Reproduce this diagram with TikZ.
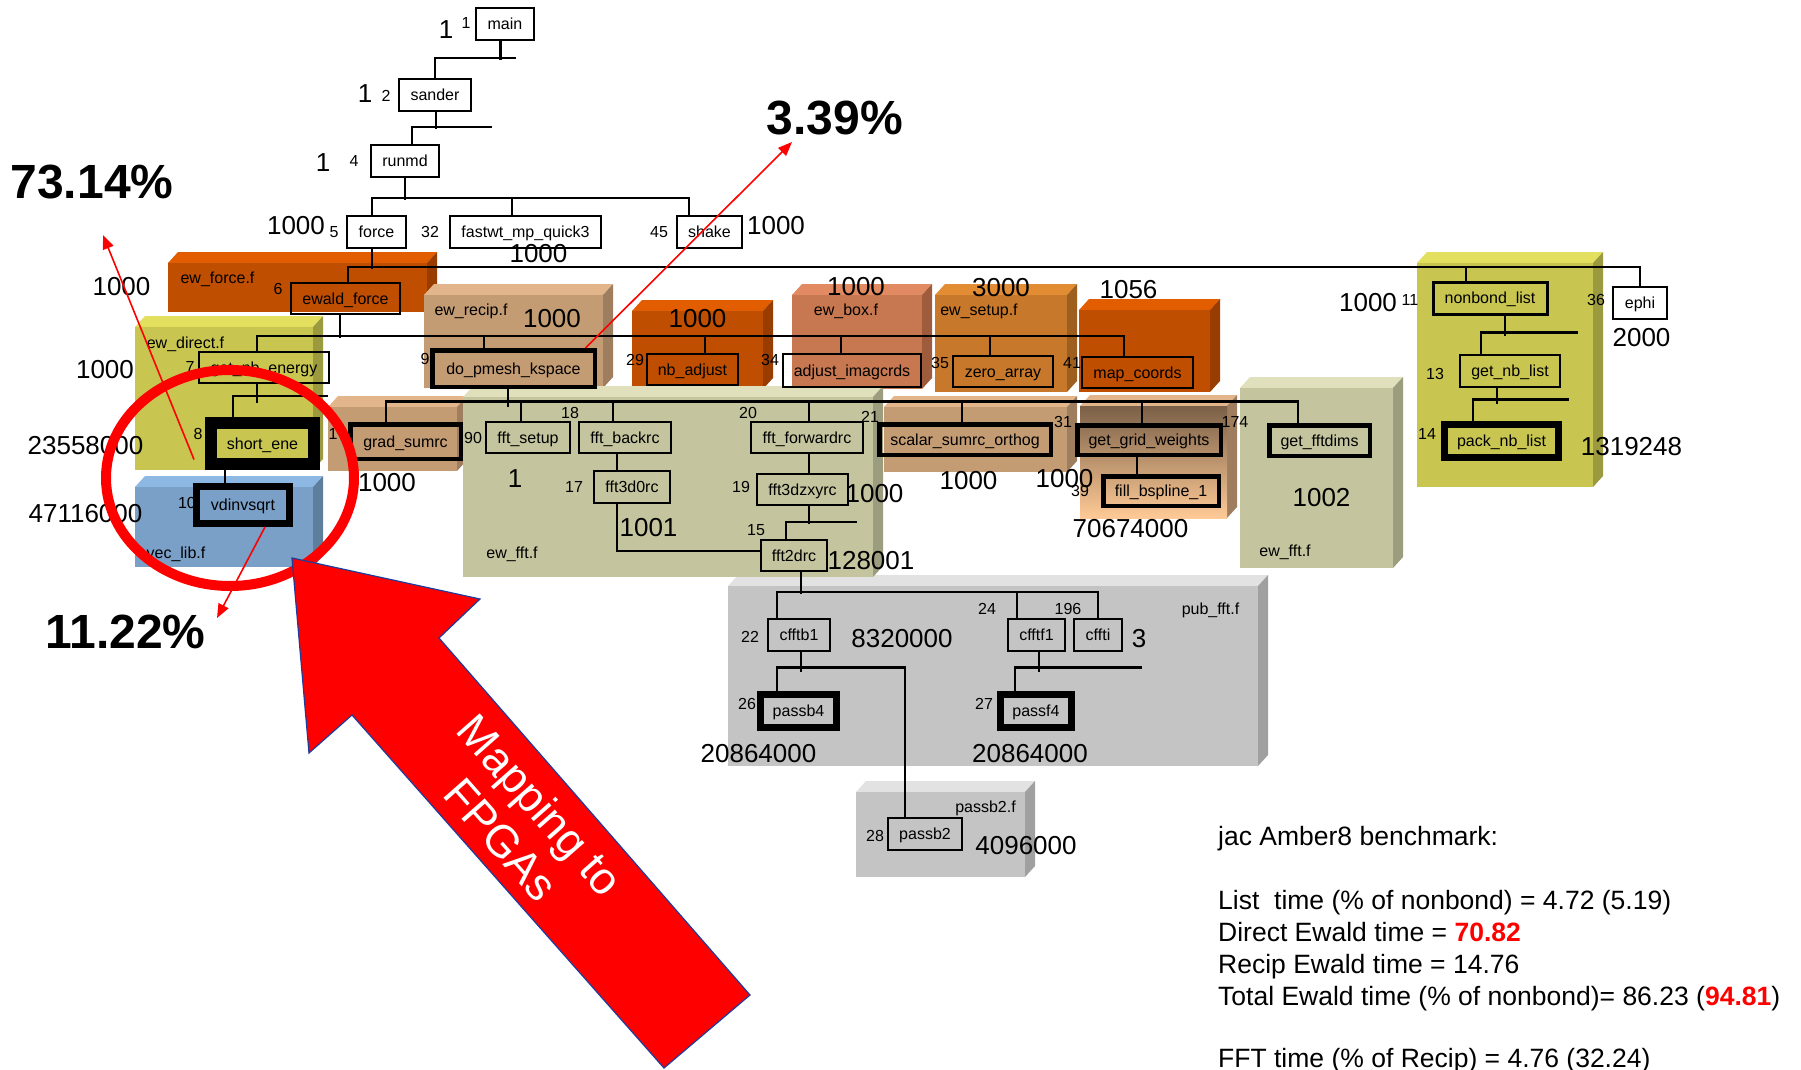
\documentclass[tikz,border=0pt]{standalone}
\usepackage{fontspec}
\setmainfont{Liberation Sans}
\usetikzlibrary{arrows.meta}
\definecolor{fOr}{HTML}{C04E00}\definecolor{tOr}{HTML}{E25C00}\definecolor{sOr}{HTML}{983C00}
\definecolor{fTan}{HTML}{C49C74}\definecolor{tTan}{HTML}{E2B68A}\definecolor{sTan}{HTML}{9E7E5E}
\definecolor{fSal}{HTML}{C87850}\definecolor{tSal}{HTML}{E28A62}\definecolor{sSal}{HTML}{9E5C3C}
\definecolor{fAmb}{HTML}{C8782A}\definecolor{tAmb}{HTML}{E28C34}\definecolor{sAmb}{HTML}{9E5E1E}
\definecolor{fYel}{HTML}{C8C650}\definecolor{tYel}{HTML}{E2E05E}\definecolor{sYel}{HTML}{9C9A3E}
\definecolor{fBlu}{HTML}{7AA0C8}\definecolor{tBlu}{HTML}{8EB8E4}\definecolor{sBlu}{HTML}{5E7E9E}
\definecolor{fOli}{HTML}{C4C49E}\definecolor{tOli}{HTML}{E0E0BC}\definecolor{sOli}{HTML}{9C9C7E}
\definecolor{fGry}{HTML}{C4C4C4}\definecolor{tGry}{HTML}{E2E2E2}\definecolor{sGry}{HTML}{A0A0A0}
\definecolor{ggwTop}{HTML}{7A6048}\definecolor{ggwMid}{HTML}{C9A07C}\definecolor{ggwBot}{HTML}{FFCA96}
\definecolor{hotred}{HTML}{FF0000}\definecolor{rim}{HTML}{1F3C9C}
\newcommand\srcfile[5]{%
 \fill[t#5] (#1,#2) -- (#1+10,#2-11) -- (#3+10,#2-11) -- (#3,#2) -- cycle;
 \fill[s#5] (#3,#2) -- (#3+10,#2-11) -- (#3+10,#4-11) -- (#3,#4) -- cycle;
 \fill[f#5] (#1,#2) rectangle (#3,#4);}
\tikzset{
 wire/.style={line width=2.6pt},
 fn/.style={draw,line width=2pt,inner sep=0pt,font=\fontsize{16}{19}\selectfont,text height=11.5pt,text depth=0pt},
 warm/.style={line width=4.5pt},
 hot/.style={line width=7pt},
 hottest/.style={line width=12pt},
 idx/.style={inner sep=0pt,font=\fontsize{16}{19}\selectfont,text height=11.5pt,text depth=0pt},
 cnt/.style={inner sep=0pt,font=\fontsize{26}{31}\selectfont,text height=18.6pt,text depth=0pt},
 pct/.style={inner sep=0pt,font=\fontsize{48}{56}\selectfont\bfseries,text height=34.4pt,text depth=0pt},
 pointer/.style={draw=hotred,line width=1.6pt,-{Triangle[length=14pt,width=11pt]}},
 bench/.style={anchor=base west,inner sep=0pt,font=\fontsize{26.5}{32}\selectfont}
}
\begin{document}
\begin{tikzpicture}[x=1pt,y=-1pt]
\useasboundingbox (0,0) rectangle (1801,1070);
\fill[white] (0,0) rectangle (1801,1070);

\srcfile{728}{586}{1258}{766}{Gry}
\srcfile{856}{792}{1025}{877}{Gry}
\srcfile{168}{263}{427}{312}{Or}
\srcfile{135}{327}{313}{470}{Yel}
\srcfile{135}{487}{313}{567}{Blu}
\srcfile{424}{295}{603}{388}{Tan}
\srcfile{632}{311}{763}{389}{Or}
\srcfile{792}{295}{922}{389}{Sal}
\srcfile{935}{295}{1067}{392}{Amb}
\srcfile{1079}{310}{1210}{392}{Or}
\srcfile{328}{407}{457}{471}{Tan}
\srcfile{884}{407}{1067}{472}{Tan}
\fill[tTan] (1080,406) -- (1090,395) -- (1237,395) -- (1227,406) -- cycle;
\fill[sTan] (1227,406) -- (1237,395) -- (1237,507) -- (1227,518) -- cycle;
\shade[top color=ggwTop,middle color=ggwMid,bottom color=ggwBot] (1080,406) rectangle (1227,518);
\srcfile{463}{397}{873}{577}{Oli}
\srcfile{1240}{388}{1393}{568}{Oli}
\srcfile{1417}{263}{1593}{487}{Yel}

\node[idx] at (217.5,278) {ew\_force.f};
\node[idx] at (185.5,343) {ew\_direct.f};
\node[idx] at (176,553) {vec\_lib.f};
\node[idx] at (471,310) {ew\_recip.f};
\node[idx] at (846,310) {ew\_box.f};
\node[idx] at (979,310) {ew\_setup.f};
\node[idx] at (512,553) {ew\_fft.f};
\node[idx] at (1285,551) {ew\_fft.f};
\node[idx] at (1210.5,609) {pub\_fft.f};
\node[idx] at (985.5,807) {passb2.f};

\node[idx] at (466,23) {1};
\node[idx] at (386,96) {2};
\node[idx] at (354,161) {4};
\node[idx] at (334,232) {5};
\node[idx] at (430,232) {32};
\node[idx] at (659,232) {45};
\node[idx] at (278,289) {6};
\node[idx] at (190,367) {7};
\node[idx] at (198,434) {8};
\node[idx] at (187,503) {10};
\node[idx] at (425,359) {9};
\node[idx] at (635,360) {29};
\node[idx] at (770,360) {34};
\node[idx] at (940,363) {35};
\node[idx] at (1072,363) {41};
\node[idx] at (333,434) {1};
\node[idx] at (473,438) {90};
\node[idx] at (570,413) {18};
\node[idx] at (574,487) {17};
\node[idx] at (748,413) {20};
\node[idx] at (741,487) {19};
\node[idx] at (756,530) {15};
\node[idx] at (870,417) {21};
\node[idx] at (1063,422) {31};
\node[idx] at (1235,422) {174};
\node[idx] at (1080,491) {39};
\node[idx] at (1410,300) {11};
\node[idx] at (1435,374) {13};
\node[idx] at (1427,434) {14};
\node[idx] at (1596,300) {36};
\node[idx] at (750,637) {22};
\node[idx] at (987,609) {24};
\node[idx] at (1068,609) {196};
\node[idx] at (747,704) {26};
\node[idx] at (984,704) {27};
\node[idx] at (875,836) {28};

\node[cnt] at (446,29) {1};
\node[cnt] at (365,93) {1};
\node[cnt] at (323,162) {1};
\node[cnt] at (296,225) {1000};
\node[cnt] at (538.5,253) {1000};
\node[cnt] at (776,225) {1000};
\node[cnt] at (121.5,286) {1000};
\node[cnt] at (105,369) {1000};
\node[cnt] at (85.5,445) {23558000};
\node[cnt] at (85.5,513) {47116000};
\node[cnt] at (387,482) {1000};
\node[cnt] at (552,318) {1000};
\node[cnt] at (697.5,318) {1000};
\node[cnt] at (856,286) {1000};
\node[cnt] at (1001,287) {3000};
\node[cnt] at (1128.5,289) {1056};
\node[cnt] at (515,478) {1};
\node[cnt] at (648.5,527) {1001};
\node[cnt] at (874.5,493) {1000};
\node[cnt] at (871,560) {128001};
\node[cnt] at (968.5,480) {1000};
\node[cnt] at (1064.5,478) {1000};
\node[cnt] at (1130.5,528) {70674000};
\node[cnt] at (1321.5,497) {1002};
\node[cnt] at (1368,302) {1000};
\node[cnt] at (1641.5,337) {2000};
\node[cnt] at (1631.5,446) {1319248};
\node[cnt] at (902,638) {8320000};
\node[cnt] at (1139,638) {3};
\node[cnt] at (758.5,753) {20864000};
\node[cnt] at (1030,753) {20864000};
\node[cnt] at (1026,845) {4096000};

\node[fn,minimum width=58pt,minimum height=32pt] (main) at (505,24) {main};
\node[fn,minimum width=72pt,minimum height=32pt] (sander) at (435,95) {sander};
\node[fn,minimum width=68pt,minimum height=32pt] (runmd) at (405,161) {runmd};
\node[fn,minimum width=59pt,minimum height=32pt] (force) at (376.5,232) {force};
\node[fn,minimum width=151pt,minimum height=32pt] (fastwt) at (525.5,232) {fastwt\_mp\_quick3};
\node[fn,minimum width=65pt,minimum height=32pt] (shake) at (709.5,232) {shake};
\node[fn,minimum width=109pt,minimum height=31pt] (ewald) at (345.5,298.5) {ewald\_force};
\node[fn,minimum width=130pt,minimum height=31pt] (gnbe) at (264,367.5) {get\_nb\_energy};
\node[fn,hottest,minimum width=103pt,minimum height=41pt] (short) at (262.5,443.5) {short\_ene};
\node[fn,hot,minimum width=93pt,minimum height=37pt] (vdin) at (243,505) {vdinvsqrt};
\node[fn,warm,minimum width=162.5pt,minimum height=36.5pt] (pmesh) at (513.5,368.5) {do\_pmesh\_kspace};
\node[fn,minimum width=91pt,minimum height=31pt] (nbadj) at (692.5,369.5) {nb\_adjust};
\node[fn,minimum width=138pt,minimum height=33pt] (adjimg) at (852,370.5) {adjust\_imagcrds};
\node[fn,minimum width=100pt,minimum height=31pt] (zero) at (1003,371.5) {zero\_array};
\node[fn,minimum width=111pt,minimum height=31pt] (mapc) at (1137.5,372.5) {map\_coords};
\node[fn,warm,minimum width=110.5pt,minimum height=34.5pt] (grad) at (405.5,441.5) {grad\_sumrc};
\node[fn,minimum width=84pt,minimum height=31pt] (fftsetup) at (528,437.5) {fft\_setup};
\node[fn,minimum width=92pt,minimum height=31pt] (fftback) at (625,437.5) {fft\_backrc};
\node[fn,minimum width=76pt,minimum height=32pt] (fft3d0) at (632,487) {fft3d0rc};
\node[fn,minimum width=112pt,minimum height=31pt] (fftfwd) at (807,437.5) {fft\_forwardrc};
\node[fn,minimum width=91pt,minimum height=31pt] (fftzxy) at (802.5,489.5) {fft3dzxyrc};
\node[fn,minimum width=66pt,minimum height=31pt] (fft2d) at (794,555.5) {fft2drc};
\node[fn,warm,minimum width=171.5pt,minimum height=30.5pt] (scalar) at (965,439.5) {scalar\_sumrc\_orthog};
\node[fn,warm,minimum width=143.5pt,minimum height=29.5pt] (ggw) at (1149,440) {get\_grid\_weights};
\node[fn,warm,minimum width=115.5pt,minimum height=29.5pt] (fillb) at (1161,491) {fill\_bspline\_1};
\node[fn,warm,minimum width=100.5pt,minimum height=30.5pt] (fftdims) at (1319.5,440.5) {get\_fftdims};
\node[fn,line width=3pt,minimum width=114pt,minimum height=32pt] (nonbond) at (1490,298) {nonbond\_list};
\node[fn,line width=2.5pt,minimum width=100pt,minimum height=32pt] (gnbl) at (1510,371) {get\_nb\_list};
\node[fn,hot,minimum width=114.5pt,minimum height=33.5pt] (pack) at (1501.5,441) {pack\_nb\_list};
\node[fn,minimum width=54pt,minimum height=32pt] (ephi) at (1640,303) {ephi};
\node[fn,minimum width=62pt,minimum height=32pt] (cfftb1) at (799,635) {cfftb1};
\node[fn,minimum width=57pt,minimum height=32pt] (cfftf1) at (1036.5,635) {cfftf1};
\node[fn,minimum width=48pt,minimum height=32pt] (cffti) at (1098,635) {cffti};
\node[fn,hot,minimum width=76.5pt,minimum height=33.5pt] (passb4) at (798.5,711) {passb4};
\node[fn,hot,minimum width=71.5pt,minimum height=33.5pt] (passf4) at (1036,711) {passf4};
\node[fn,minimum width=74pt,minimum height=32pt] (passb2) at (925,834) {passb2};

\draw[wire] ([xshift=-4.5pt]main.south) -- ++(0,19);
\draw[wire] (sander.north) |- ++(81,-20);
\draw[wire] ([xshift=1pt]sander.south) -- ++(0,17);
\draw[wire] ([xshift=7pt]runmd.north) |- ++(80,-17);
\draw[wire] (runmd.south) -- ++(0,22);
\draw[wire] ([xshift=-4.5pt]force.north) -- ++(0,-17) -| ([xshift=-20.5pt]shake.north);
\draw[wire] ([xshift=-13.5pt]fastwt.north) -- ++(0,-17);
\draw[wire] ([xshift=-4.5pt]force.south) -- ++(0,20);
\draw[wire] ([xshift=2.5pt]ewald.north) -- ++(0,-15) -| (ephi.north);
\draw[wire] ([xshift=-24pt]nonbond.north) -- ++(0,-14);
\draw[wire] ([xshift=-5.5pt]ewald.south) -- ++(0,23);
\draw[wire] ([xshift=-7pt]gnbe.north) -- ++(0,-15) -| ([xshift=-13.5pt]mapc.north);
\draw[wire] ([xshift=-29.5pt]pmesh.north) -- ++(0,-13.5);
\draw[wire] ([xshift=12.5pt]nbadj.north) -- ++(0,-17);
\draw[wire] ([xshift=-11pt]adjimg.north) -- ++(0,-17);
\draw[wire] ([xshift=-13pt]zero.north) -- ++(0,-19);
\draw[wire] ([xshift=-7pt]gnbe.south) -- ++(0,19);
\draw[wire] ([xshift=-29.5pt]short.north) -- ++(0,-21) -- ++(95,0);
\draw[wire] ([xshift=-18pt]vdin.north) -- ++(0,-22);
\draw[wire] ([xshift=-5.5pt]pmesh.south) -- ++(0,17.5);
\draw[wire] ([xshift=-19.5pt]grad.north) -- ++(0,-20.5) -| ([xshift=-21.5pt]fftdims.north);
\draw[wire] ([xshift=-7pt]fftsetup.north) -- ++(0,-18);
\draw[wire] ([xshift=-12pt]fftback.north) -- ++(0,-18);
\draw[wire] ([xshift=2pt]fftfwd.north) -- ++(0,-18);
\draw[wire] ([xshift=-3pt]scalar.north) -- ++(0,-20.25);
\draw[wire] ([xshift=-7pt]ggw.north) -- ++(0,-21.25);
\draw[wire] ([xshift=-8pt]fftback.south) -- ++(0,18);
\draw[wire] ([xshift=-15pt]fft3d0.south) |- ([yshift=4.5pt]fft2d.west);
\draw[wire] ([xshift=2pt]fftfwd.south) -- ++(0,21);
\draw[wire] ([xshift=6.5pt]fftzxy.south) -- ++(0,18);
\draw[wire] ([xshift=-8pt]fft2d.north) |- ++(71,-17);
\draw[wire] ([xshift=7pt]fft2d.south) -- ++(0,22);
\draw[wire] ([xshift=-22pt]cfftb1.north) -- ++(0,-26) -| (cffti.north);
\draw[wire] ([xshift=-19.5pt]cfftf1.north) -- ++(0,-26);
\draw[wire] ([xshift=2pt]cfftb1.south) -- ++(0,20);
\draw[wire] ([xshift=-21.5pt]passb4.north) -- ++(0,-23) -| ([xshift=-20pt]passb2.north);
\draw[wire] ([xshift=2.5pt]cfftf1.south) -- ++(0,20);
\draw[wire] ([xshift=-21pt]passf4.north) -- ++(0,-23) -- ++(127,0);
\draw[wire] ([xshift=15pt]nonbond.south) -- ++(0,20);
\draw[wire] ([xshift=-29pt]gnbl.north) -- ++(0,-21) -- ++(97,0);
\draw[wire] ([xshift=-13pt]gnbl.south) -- ++(0,16);
\draw[wire] ([xshift=-28.5pt]pack.north) -- ++(0,-21.5) -- ++(96,0);
\draw[wire] ([xshift=-12pt]ggw.south) -- ([xshift=-24pt]fillb.north);

\draw[hotred,line width=10pt] (230,478) ellipse [x radius=124,y radius=108];

\node[pct] (pct73) at (92,181) {73.14\%};
\node[pct] (pct3) at (835,117) {3.39\%};
\node[pct] (pct11) at (125.5,631) {11.22\%};
\coordinate (tip73) at (103,235);
\coordinate (tip11) at (217,618);
\coordinate (tip3) at (792,142);
\draw[pointer] ([shift={(-11,16)}]short.west) -- (tip73);
\draw[pointer] ([xshift=22pt]vdin.south) -- (tip11);
\draw[pointer] ([xshift=-11.5pt]pmesh.north east) -- (tip3);

\fill[hotred,draw=rim,line width=1.2pt] (292,558) -- (480,599) -- (439,638) -- (750,995) -- (664,1068) -- (352,715) -- (309,753) -- cycle;
\node[rotate=-48.6,text=white,font=\fontsize{45}{52}\selectfont,align=center,inner sep=0pt] (fpga) at (521,822) {Mapping to\\FPGAs};

\node[bench] (bench1) at (1218,845) {jac Amber8 benchmark:};
\node[bench] (bench2) at (1218,909) {List\ \ time (\% of nonbond) = 4.72 (5.19)};
\node[bench] (bench3) at (1218,941) {Direct Ewald time = {\bfseries\color{hotred}70.82}};
\node[bench] (bench4) at (1218,973) {Recip Ewald time = 14.76};
\node[bench] (bench5) at (1218,1005) {Total Ewald time (\% of nonbond)= 86.23 ({\bfseries\color{hotred}94.81})};
\node[bench] (bench6) at (1218,1067) {FFT time (\% of Recip) = 4.76 (32.24)};
\end{tikzpicture}
\end{document}
